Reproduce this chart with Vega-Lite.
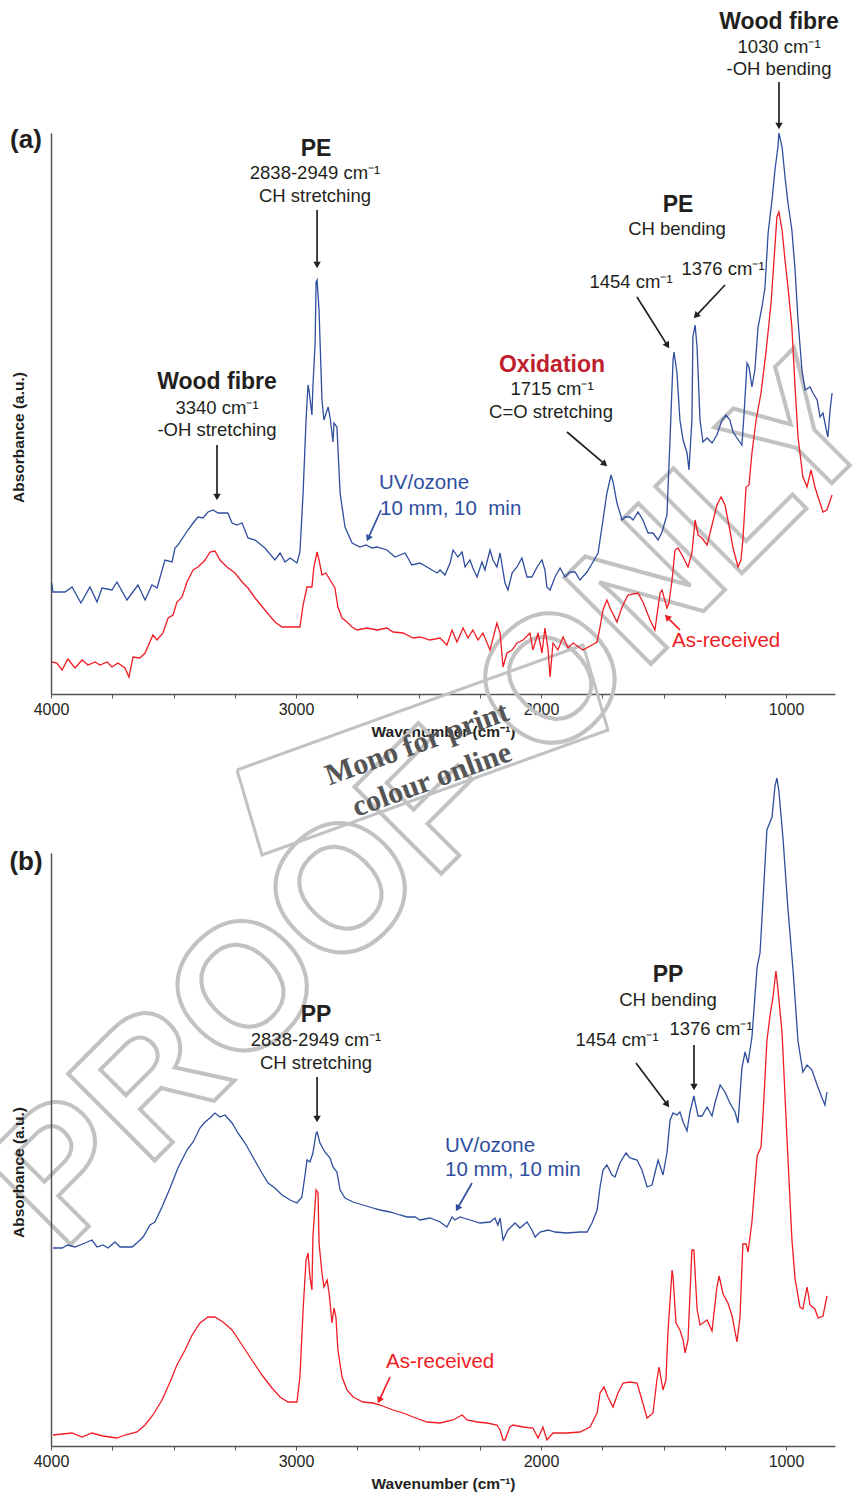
{
"$schema": "https://vega.github.io/schema/vega-lite/v6.json",
"autosize": "none",
"padding": {"left": 51, "top": 133, "right": 809, "bottom": 1363},
"background": "white",
"config": {"view": {"stroke": null}, "font": "Liberation Sans", "axis": {"grid": false}},
"spacing": 159,
"bounds": "flush",
"datasets": {
"a_spec": [
{"wn":3997,"a":111,"s":"UV/ozone"},{"wn":3992,"a":102,"s":"UV/ozone"},{"wn":3943,"a":102,"s":"UV/ozone"},{"wn":3914,"a":107,"s":"UV/ozone"},{"wn":3878,"a":91,"s":"UV/ozone"},{"wn":3841,"a":107,"s":"UV/ozone"},{"wn":3812,"a":92,"s":"UV/ozone"},{"wn":3792,"a":106,"s":"UV/ozone"},{"wn":3751,"a":104,"s":"UV/ozone"},{"wn":3731,"a":112,"s":"UV/ozone"},{"wn":3690,"a":94,"s":"UV/ozone"},{"wn":3645,"a":109,"s":"UV/ozone"},{"wn":3616,"a":94,"s":"UV/ozone"},{"wn":3588,"a":109,"s":"UV/ozone"},{"wn":3567,"a":106,"s":"UV/ozone"},{"wn":3535,"a":134,"s":"UV/ozone"},{"wn":3506,"a":132,"s":"UV/ozone"},{"wn":3494,"a":146,"s":"UV/ozone"},{"wn":3482,"a":149,"s":"UV/ozone"},{"wn":3441,"a":164,"s":"UV/ozone"},{"wn":3420,"a":171,"s":"UV/ozone"},{"wn":3400,"a":177,"s":"UV/ozone"},{"wn":3380,"a":176,"s":"UV/ozone"},{"wn":3359,"a":182,"s":"UV/ozone"},{"wn":3339,"a":184,"s":"UV/ozone"},{"wn":3318,"a":181,"s":"UV/ozone"},{"wn":3278,"a":181,"s":"UV/ozone"},{"wn":3261,"a":171,"s":"UV/ozone"},{"wn":3241,"a":169,"s":"UV/ozone"},{"wn":3220,"a":171,"s":"UV/ozone"},{"wn":3196,"a":156,"s":"UV/ozone"},{"wn":3167,"a":154,"s":"UV/ozone"},{"wn":3127,"a":146,"s":"UV/ozone"},{"wn":3086,"a":134,"s":"UV/ozone"},{"wn":3065,"a":141,"s":"UV/ozone"},{"wn":3045,"a":132,"s":"UV/ozone"},{"wn":3024,"a":136,"s":"UV/ozone"},{"wn":2996,"a":131,"s":"UV/ozone"},{"wn":2984,"a":142,"s":"UV/ozone"},{"wn":2971,"a":201,"s":"UV/ozone"},{"wn":2959,"a":274,"s":"UV/ozone"},{"wn":2951,"a":309,"s":"UV/ozone"},{"wn":2947,"a":304,"s":"UV/ozone"},{"wn":2935,"a":279,"s":"UV/ozone"},{"wn":2931,"a":307,"s":"UV/ozone"},{"wn":2922,"a":351,"s":"UV/ozone"},{"wn":2918,"a":412,"s":"UV/ozone"},{"wn":2914,"a":414,"s":"UV/ozone"},{"wn":2906,"a":384,"s":"UV/ozone"},{"wn":2894,"a":294,"s":"UV/ozone"},{"wn":2886,"a":274,"s":"UV/ozone"},{"wn":2869,"a":287,"s":"UV/ozone"},{"wn":2861,"a":277,"s":"UV/ozone"},{"wn":2849,"a":252,"s":"UV/ozone"},{"wn":2845,"a":271,"s":"UV/ozone"},{"wn":2833,"a":267,"s":"UV/ozone"},{"wn":2820,"a":201,"s":"UV/ozone"},{"wn":2800,"a":167,"s":"UV/ozone"},{"wn":2771,"a":151,"s":"UV/ozone"},{"wn":2739,"a":147,"s":"UV/ozone"},{"wn":2714,"a":149,"s":"UV/ozone"},{"wn":2690,"a":146,"s":"UV/ozone"},{"wn":2669,"a":147,"s":"UV/ozone"},{"wn":2629,"a":144,"s":"UV/ozone"},{"wn":2596,"a":137,"s":"UV/ozone"},{"wn":2555,"a":141,"s":"UV/ozone"},{"wn":2527,"a":129,"s":"UV/ozone"},{"wn":2494,"a":131,"s":"UV/ozone"},{"wn":2424,"a":121,"s":"UV/ozone"},{"wn":2412,"a":124,"s":"UV/ozone"},{"wn":2392,"a":119,"s":"UV/ozone"},{"wn":2371,"a":131,"s":"UV/ozone"},{"wn":2359,"a":144,"s":"UV/ozone"},{"wn":2339,"a":137,"s":"UV/ozone"},{"wn":2322,"a":142,"s":"UV/ozone"},{"wn":2310,"a":127,"s":"UV/ozone"},{"wn":2290,"a":134,"s":"UV/ozone"},{"wn":2278,"a":126,"s":"UV/ozone"},{"wn":2261,"a":117,"s":"UV/ozone"},{"wn":2241,"a":132,"s":"UV/ozone"},{"wn":2229,"a":124,"s":"UV/ozone"},{"wn":2208,"a":144,"s":"UV/ozone"},{"wn":2196,"a":134,"s":"UV/ozone"},{"wn":2180,"a":127,"s":"UV/ozone"},{"wn":2167,"a":141,"s":"UV/ozone"},{"wn":2147,"a":111,"s":"UV/ozone"},{"wn":2135,"a":104,"s":"UV/ozone"},{"wn":2118,"a":121,"s":"UV/ozone"},{"wn":2098,"a":127,"s":"UV/ozone"},{"wn":2078,"a":136,"s":"UV/ozone"},{"wn":2057,"a":117,"s":"UV/ozone"},{"wn":2037,"a":117,"s":"UV/ozone"},{"wn":2016,"a":127,"s":"UV/ozone"},{"wn":1996,"a":134,"s":"UV/ozone"},{"wn":1984,"a":124,"s":"UV/ozone"},{"wn":1976,"a":107,"s":"UV/ozone"},{"wn":1963,"a":104,"s":"UV/ozone"},{"wn":1943,"a":117,"s":"UV/ozone"},{"wn":1922,"a":126,"s":"UV/ozone"},{"wn":1902,"a":117,"s":"UV/ozone"},{"wn":1882,"a":122,"s":"UV/ozone"},{"wn":1861,"a":122,"s":"UV/ozone"},{"wn":1841,"a":114,"s":"UV/ozone"},{"wn":1812,"a":122,"s":"UV/ozone"},{"wn":1788,"a":132,"s":"UV/ozone"},{"wn":1767,"a":141,"s":"UV/ozone"},{"wn":1747,"a":174,"s":"UV/ozone"},{"wn":1731,"a":201,"s":"UV/ozone"},{"wn":1714,"a":219,"s":"UV/ozone"},{"wn":1706,"a":212,"s":"UV/ozone"},{"wn":1690,"a":191,"s":"UV/ozone"},{"wn":1669,"a":174,"s":"UV/ozone"},{"wn":1657,"a":177,"s":"UV/ozone"},{"wn":1637,"a":177,"s":"UV/ozone"},{"wn":1624,"a":174,"s":"UV/ozone"},{"wn":1604,"a":182,"s":"UV/ozone"},{"wn":1584,"a":174,"s":"UV/ozone"},{"wn":1563,"a":161,"s":"UV/ozone"},{"wn":1543,"a":161,"s":"UV/ozone"},{"wn":1522,"a":154,"s":"UV/ozone"},{"wn":1506,"a":162,"s":"UV/ozone"},{"wn":1486,"a":179,"s":"UV/ozone"},{"wn":1473,"a":257,"s":"UV/ozone"},{"wn":1461,"a":334,"s":"UV/ozone"},{"wn":1457,"a":342,"s":"UV/ozone"},{"wn":1445,"a":321,"s":"UV/ozone"},{"wn":1433,"a":274,"s":"UV/ozone"},{"wn":1420,"a":254,"s":"UV/ozone"},{"wn":1404,"a":241,"s":"UV/ozone"},{"wn":1396,"a":224,"s":"UV/ozone"},{"wn":1384,"a":274,"s":"UV/ozone"},{"wn":1380,"a":357,"s":"UV/ozone"},{"wn":1371,"a":369,"s":"UV/ozone"},{"wn":1363,"a":347,"s":"UV/ozone"},{"wn":1351,"a":274,"s":"UV/ozone"},{"wn":1339,"a":252,"s":"UV/ozone"},{"wn":1322,"a":256,"s":"UV/ozone"},{"wn":1302,"a":251,"s":"UV/ozone"},{"wn":1282,"a":259,"s":"UV/ozone"},{"wn":1261,"a":274,"s":"UV/ozone"},{"wn":1245,"a":279,"s":"UV/ozone"},{"wn":1229,"a":274,"s":"UV/ozone"},{"wn":1216,"a":262,"s":"UV/ozone"},{"wn":1200,"a":256,"s":"UV/ozone"},{"wn":1180,"a":249,"s":"UV/ozone"},{"wn":1171,"a":281,"s":"UV/ozone"},{"wn":1159,"a":331,"s":"UV/ozone"},{"wn":1151,"a":327,"s":"UV/ozone"},{"wn":1139,"a":307,"s":"UV/ozone"},{"wn":1127,"a":324,"s":"UV/ozone"},{"wn":1114,"a":367,"s":"UV/ozone"},{"wn":1098,"a":387,"s":"UV/ozone"},{"wn":1086,"a":406,"s":"UV/ozone"},{"wn":1073,"a":461,"s":"UV/ozone"},{"wn":1057,"a":494,"s":"UV/ozone"},{"wn":1045,"a":524,"s":"UV/ozone"},{"wn":1033,"a":547,"s":"UV/ozone"},{"wn":1029,"a":561,"s":"UV/ozone"},{"wn":1016,"a":547,"s":"UV/ozone"},{"wn":1004,"a":517,"s":"UV/ozone"},{"wn":992,"a":491,"s":"UV/ozone"},{"wn":976,"a":464,"s":"UV/ozone"},{"wn":963,"a":424,"s":"UV/ozone"},{"wn":951,"a":374,"s":"UV/ozone"},{"wn":935,"a":324,"s":"UV/ozone"},{"wn":922,"a":304,"s":"UV/ozone"},{"wn":902,"a":307,"s":"UV/ozone"},{"wn":890,"a":301,"s":"UV/ozone"},{"wn":873,"a":294,"s":"UV/ozone"},{"wn":861,"a":277,"s":"UV/ozone"},{"wn":849,"a":281,"s":"UV/ozone"},{"wn":833,"a":261,"s":"UV/ozone"},{"wn":829,"a":257,"s":"UV/ozone"},{"wn":820,"a":284,"s":"UV/ozone"},{"wn":812,"a":301,"s":"UV/ozone"},
{"wn":3996,"a":32,"s":"As-received"},{"wn":3976,"a":31,"s":"As-received"},{"wn":3955,"a":24,"s":"As-received"},{"wn":3931,"a":35,"s":"As-received"},{"wn":3902,"a":26,"s":"As-received"},{"wn":3873,"a":34,"s":"As-received"},{"wn":3849,"a":29,"s":"As-received"},{"wn":3820,"a":32,"s":"As-received"},{"wn":3800,"a":29,"s":"As-received"},{"wn":3771,"a":32,"s":"As-received"},{"wn":3751,"a":27,"s":"As-received"},{"wn":3727,"a":31,"s":"As-received"},{"wn":3698,"a":26,"s":"As-received"},{"wn":3682,"a":17,"s":"As-received"},{"wn":3665,"a":37,"s":"As-received"},{"wn":3637,"a":36,"s":"As-received"},{"wn":3616,"a":41,"s":"As-received"},{"wn":3584,"a":59,"s":"As-received"},{"wn":3567,"a":54,"s":"As-received"},{"wn":3543,"a":61,"s":"As-received"},{"wn":3522,"a":76,"s":"As-received"},{"wn":3502,"a":79,"s":"As-received"},{"wn":3486,"a":92,"s":"As-received"},{"wn":3465,"a":97,"s":"As-received"},{"wn":3445,"a":112,"s":"As-received"},{"wn":3420,"a":124,"s":"As-received"},{"wn":3400,"a":127,"s":"As-received"},{"wn":3371,"a":134,"s":"As-received"},{"wn":3351,"a":142,"s":"As-received"},{"wn":3331,"a":143,"s":"As-received"},{"wn":3310,"a":134,"s":"As-received"},{"wn":3282,"a":127,"s":"As-received"},{"wn":3249,"a":121,"s":"As-received"},{"wn":3220,"a":112,"s":"As-received"},{"wn":3196,"a":106,"s":"As-received"},{"wn":3167,"a":96,"s":"As-received"},{"wn":3127,"a":84,"s":"As-received"},{"wn":3086,"a":72,"s":"As-received"},{"wn":3057,"a":67,"s":"As-received"},{"wn":2992,"a":67,"s":"As-received"},{"wn":2984,"a":67,"s":"As-received"},{"wn":2971,"a":89,"s":"As-received"},{"wn":2955,"a":107,"s":"As-received"},{"wn":2935,"a":107,"s":"As-received"},{"wn":2927,"a":127,"s":"As-received"},{"wn":2914,"a":142,"s":"As-received"},{"wn":2906,"a":134,"s":"As-received"},{"wn":2894,"a":119,"s":"As-received"},{"wn":2878,"a":121,"s":"As-received"},{"wn":2861,"a":114,"s":"As-received"},{"wn":2841,"a":106,"s":"As-received"},{"wn":2829,"a":87,"s":"As-received"},{"wn":2812,"a":76,"s":"As-received"},{"wn":2792,"a":72,"s":"As-received"},{"wn":2771,"a":67,"s":"As-received"},{"wn":2751,"a":64,"s":"As-received"},{"wn":2710,"a":66,"s":"As-received"},{"wn":2669,"a":64,"s":"As-received"},{"wn":2629,"a":66,"s":"As-received"},{"wn":2604,"a":62,"s":"As-received"},{"wn":2563,"a":61,"s":"As-received"},{"wn":2522,"a":56,"s":"As-received"},{"wn":2494,"a":57,"s":"As-received"},{"wn":2453,"a":54,"s":"As-received"},{"wn":2412,"a":56,"s":"As-received"},{"wn":2384,"a":49,"s":"As-received"},{"wn":2363,"a":64,"s":"As-received"},{"wn":2343,"a":52,"s":"As-received"},{"wn":2318,"a":66,"s":"As-received"},{"wn":2298,"a":56,"s":"As-received"},{"wn":2278,"a":64,"s":"As-received"},{"wn":2257,"a":54,"s":"As-received"},{"wn":2237,"a":61,"s":"As-received"},{"wn":2208,"a":44,"s":"As-received"},{"wn":2180,"a":71,"s":"As-received"},{"wn":2167,"a":61,"s":"As-received"},{"wn":2155,"a":27,"s":"As-received"},{"wn":2139,"a":41,"s":"As-received"},{"wn":2118,"a":44,"s":"As-received"},{"wn":2098,"a":51,"s":"As-received"},{"wn":2073,"a":54,"s":"As-received"},{"wn":2045,"a":61,"s":"As-received"},{"wn":2033,"a":44,"s":"As-received"},{"wn":2012,"a":61,"s":"As-received"},{"wn":1996,"a":41,"s":"As-received"},{"wn":1984,"a":66,"s":"As-received"},{"wn":1971,"a":44,"s":"As-received"},{"wn":1963,"a":17,"s":"As-received"},{"wn":1951,"a":51,"s":"As-received"},{"wn":1931,"a":44,"s":"As-received"},{"wn":1910,"a":57,"s":"As-received"},{"wn":1890,"a":46,"s":"As-received"},{"wn":1869,"a":51,"s":"As-received"},{"wn":1829,"a":44,"s":"As-received"},{"wn":1771,"a":52,"s":"As-received"},{"wn":1759,"a":67,"s":"As-received"},{"wn":1747,"a":84,"s":"As-received"},{"wn":1731,"a":94,"s":"As-received"},{"wn":1718,"a":86,"s":"As-received"},{"wn":1690,"a":72,"s":"As-received"},{"wn":1669,"a":87,"s":"As-received"},{"wn":1645,"a":99,"s":"As-received"},{"wn":1604,"a":101,"s":"As-received"},{"wn":1584,"a":92,"s":"As-received"},{"wn":1555,"a":74,"s":"As-received"},{"wn":1535,"a":64,"s":"As-received"},{"wn":1514,"a":101,"s":"As-received"},{"wn":1506,"a":104,"s":"As-received"},{"wn":1486,"a":86,"s":"As-received"},{"wn":1478,"a":91,"s":"As-received"},{"wn":1465,"a":114,"s":"As-received"},{"wn":1453,"a":144,"s":"As-received"},{"wn":1441,"a":146,"s":"As-received"},{"wn":1420,"a":137,"s":"As-received"},{"wn":1400,"a":127,"s":"As-received"},{"wn":1384,"a":141,"s":"As-received"},{"wn":1371,"a":174,"s":"As-received"},{"wn":1359,"a":159,"s":"As-received"},{"wn":1343,"a":156,"s":"As-received"},{"wn":1322,"a":149,"s":"As-received"},{"wn":1302,"a":169,"s":"As-received"},{"wn":1282,"a":189,"s":"As-received"},{"wn":1265,"a":197,"s":"As-received"},{"wn":1249,"a":189,"s":"As-received"},{"wn":1233,"a":169,"s":"As-received"},{"wn":1216,"a":146,"s":"As-received"},{"wn":1196,"a":127,"s":"As-received"},{"wn":1184,"a":134,"s":"As-received"},{"wn":1176,"a":154,"s":"As-received"},{"wn":1163,"a":207,"s":"As-received"},{"wn":1151,"a":209,"s":"As-received"},{"wn":1139,"a":241,"s":"As-received"},{"wn":1122,"a":274,"s":"As-received"},{"wn":1102,"a":301,"s":"As-received"},{"wn":1082,"a":341,"s":"As-received"},{"wn":1061,"a":391,"s":"As-received"},{"wn":1049,"a":434,"s":"As-received"},{"wn":1037,"a":477,"s":"As-received"},{"wn":1029,"a":482,"s":"As-received"},{"wn":1016,"a":464,"s":"As-received"},{"wn":1004,"a":434,"s":"As-received"},{"wn":992,"a":407,"s":"As-received"},{"wn":976,"a":367,"s":"As-received"},{"wn":963,"a":307,"s":"As-received"},{"wn":951,"a":257,"s":"As-received"},{"wn":931,"a":217,"s":"As-received"},{"wn":914,"a":207,"s":"As-received"},{"wn":898,"a":224,"s":"As-received"},{"wn":882,"a":207,"s":"As-received"},{"wn":869,"a":197,"s":"As-received"},{"wn":849,"a":182,"s":"As-received"},{"wn":833,"a":184,"s":"As-received"},{"wn":812,"a":199,"s":"As-received"}
],
"b_spec": [
{"wn":3992,"a":198,"s":"UV/ozone"},{"wn":3955,"a":198,"s":"UV/ozone"},{"wn":3931,"a":201,"s":"UV/ozone"},{"wn":3902,"a":199,"s":"UV/ozone"},{"wn":3861,"a":203,"s":"UV/ozone"},{"wn":3833,"a":206,"s":"UV/ozone"},{"wn":3812,"a":199,"s":"UV/ozone"},{"wn":3788,"a":201,"s":"UV/ozone"},{"wn":3767,"a":198,"s":"UV/ozone"},{"wn":3739,"a":204,"s":"UV/ozone"},{"wn":3718,"a":199,"s":"UV/ozone"},{"wn":3669,"a":199,"s":"UV/ozone"},{"wn":3645,"a":204,"s":"UV/ozone"},{"wn":3624,"a":209,"s":"UV/ozone"},{"wn":3596,"a":221,"s":"UV/ozone"},{"wn":3576,"a":224,"s":"UV/ozone"},{"wn":3547,"a":239,"s":"UV/ozone"},{"wn":3514,"a":258,"s":"UV/ozone"},{"wn":3482,"a":278,"s":"UV/ozone"},{"wn":3445,"a":296,"s":"UV/ozone"},{"wn":3420,"a":304,"s":"UV/ozone"},{"wn":3392,"a":318,"s":"UV/ozone"},{"wn":3371,"a":324,"s":"UV/ozone"},{"wn":3351,"a":328,"s":"UV/ozone"},{"wn":3331,"a":333,"s":"UV/ozone"},{"wn":3310,"a":329,"s":"UV/ozone"},{"wn":3290,"a":331,"s":"UV/ozone"},{"wn":3261,"a":323,"s":"UV/ozone"},{"wn":3237,"a":313,"s":"UV/ozone"},{"wn":3208,"a":303,"s":"UV/ozone"},{"wn":3176,"a":289,"s":"UV/ozone"},{"wn":3139,"a":273,"s":"UV/ozone"},{"wn":3114,"a":263,"s":"UV/ozone"},{"wn":3086,"a":258,"s":"UV/ozone"},{"wn":3057,"a":251,"s":"UV/ozone"},{"wn":3024,"a":246,"s":"UV/ozone"},{"wn":2996,"a":243,"s":"UV/ozone"},{"wn":2976,"a":249,"s":"UV/ozone"},{"wn":2963,"a":271,"s":"UV/ozone"},{"wn":2955,"a":286,"s":"UV/ozone"},{"wn":2943,"a":284,"s":"UV/ozone"},{"wn":2931,"a":293,"s":"UV/ozone"},{"wn":2918,"a":313,"s":"UV/ozone"},{"wn":2914,"a":314,"s":"UV/ozone"},{"wn":2902,"a":303,"s":"UV/ozone"},{"wn":2882,"a":294,"s":"UV/ozone"},{"wn":2861,"a":288,"s":"UV/ozone"},{"wn":2849,"a":279,"s":"UV/ozone"},{"wn":2833,"a":274,"s":"UV/ozone"},{"wn":2820,"a":256,"s":"UV/ozone"},{"wn":2800,"a":248,"s":"UV/ozone"},{"wn":2767,"a":244,"s":"UV/ozone"},{"wn":2727,"a":241,"s":"UV/ozone"},{"wn":2686,"a":238,"s":"UV/ozone"},{"wn":2657,"a":236,"s":"UV/ozone"},{"wn":2616,"a":234,"s":"UV/ozone"},{"wn":2576,"a":231,"s":"UV/ozone"},{"wn":2547,"a":229,"s":"UV/ozone"},{"wn":2514,"a":229,"s":"UV/ozone"},{"wn":2494,"a":226,"s":"UV/ozone"},{"wn":2453,"a":228,"s":"UV/ozone"},{"wn":2412,"a":224,"s":"UV/ozone"},{"wn":2384,"a":219,"s":"UV/ozone"},{"wn":2363,"a":229,"s":"UV/ozone"},{"wn":2351,"a":226,"s":"UV/ozone"},{"wn":2331,"a":229,"s":"UV/ozone"},{"wn":2290,"a":226,"s":"UV/ozone"},{"wn":2249,"a":223,"s":"UV/ozone"},{"wn":2208,"a":224,"s":"UV/ozone"},{"wn":2188,"a":228,"s":"UV/ozone"},{"wn":2176,"a":221,"s":"UV/ozone"},{"wn":2167,"a":228,"s":"UV/ozone"},{"wn":2155,"a":206,"s":"UV/ozone"},{"wn":2135,"a":216,"s":"UV/ozone"},{"wn":2106,"a":223,"s":"UV/ozone"},{"wn":2086,"a":218,"s":"UV/ozone"},{"wn":2057,"a":224,"s":"UV/ozone"},{"wn":2037,"a":216,"s":"UV/ozone"},{"wn":2024,"a":209,"s":"UV/ozone"},{"wn":2004,"a":214,"s":"UV/ozone"},{"wn":1971,"a":216,"s":"UV/ozone"},{"wn":1943,"a":214,"s":"UV/ozone"},{"wn":1894,"a":213,"s":"UV/ozone"},{"wn":1841,"a":214,"s":"UV/ozone"},{"wn":1812,"a":214,"s":"UV/ozone"},{"wn":1792,"a":223,"s":"UV/ozone"},{"wn":1771,"a":236,"s":"UV/ozone"},{"wn":1759,"a":259,"s":"UV/ozone"},{"wn":1747,"a":276,"s":"UV/ozone"},{"wn":1731,"a":281,"s":"UV/ozone"},{"wn":1710,"a":271,"s":"UV/ozone"},{"wn":1698,"a":269,"s":"UV/ozone"},{"wn":1678,"a":283,"s":"UV/ozone"},{"wn":1653,"a":293,"s":"UV/ozone"},{"wn":1637,"a":288,"s":"UV/ozone"},{"wn":1608,"a":286,"s":"UV/ozone"},{"wn":1588,"a":276,"s":"UV/ozone"},{"wn":1567,"a":259,"s":"UV/ozone"},{"wn":1547,"a":261,"s":"UV/ozone"},{"wn":1535,"a":273,"s":"UV/ozone"},{"wn":1522,"a":286,"s":"UV/ozone"},{"wn":1502,"a":271,"s":"UV/ozone"},{"wn":1486,"a":293,"s":"UV/ozone"},{"wn":1473,"a":326,"s":"UV/ozone"},{"wn":1461,"a":333,"s":"UV/ozone"},{"wn":1445,"a":331,"s":"UV/ozone"},{"wn":1433,"a":334,"s":"UV/ozone"},{"wn":1420,"a":324,"s":"UV/ozone"},{"wn":1404,"a":315,"s":"UV/ozone"},{"wn":1392,"a":334,"s":"UV/ozone"},{"wn":1376,"a":350,"s":"UV/ozone"},{"wn":1359,"a":330,"s":"UV/ozone"},{"wn":1343,"a":330,"s":"UV/ozone"},{"wn":1322,"a":339,"s":"UV/ozone"},{"wn":1302,"a":330,"s":"UV/ozone"},{"wn":1290,"a":343,"s":"UV/ozone"},{"wn":1269,"a":361,"s":"UV/ozone"},{"wn":1249,"a":354,"s":"UV/ozone"},{"wn":1229,"a":343,"s":"UV/ozone"},{"wn":1208,"a":334,"s":"UV/ozone"},{"wn":1196,"a":323,"s":"UV/ozone"},{"wn":1180,"a":378,"s":"UV/ozone"},{"wn":1167,"a":394,"s":"UV/ozone"},{"wn":1155,"a":383,"s":"UV/ozone"},{"wn":1139,"a":409,"s":"UV/ozone"},{"wn":1118,"a":479,"s":"UV/ozone"},{"wn":1106,"a":493,"s":"UV/ozone"},{"wn":1094,"a":545,"s":"UV/ozone"},{"wn":1078,"a":616,"s":"UV/ozone"},{"wn":1057,"a":629,"s":"UV/ozone"},{"wn":1045,"a":660,"s":"UV/ozone"},{"wn":1037,"a":668,"s":"UV/ozone"},{"wn":1029,"a":655,"s":"UV/ozone"},{"wn":1012,"a":607,"s":"UV/ozone"},{"wn":992,"a":537,"s":"UV/ozone"},{"wn":971,"a":475,"s":"UV/ozone"},{"wn":951,"a":405,"s":"UV/ozone"},{"wn":931,"a":374,"s":"UV/ozone"},{"wn":914,"a":381,"s":"UV/ozone"},{"wn":894,"a":376,"s":"UV/ozone"},{"wn":873,"a":361,"s":"UV/ozone"},{"wn":853,"a":348,"s":"UV/ozone"},{"wn":841,"a":341,"s":"UV/ozone"},{"wn":833,"a":354,"s":"UV/ozone"},
{"wn":3992,"a":11,"s":"As-received"},{"wn":3914,"a":13,"s":"As-received"},{"wn":3873,"a":9,"s":"As-received"},{"wn":3833,"a":13,"s":"As-received"},{"wn":3788,"a":10,"s":"As-received"},{"wn":3731,"a":8,"s":"As-received"},{"wn":3698,"a":11,"s":"As-received"},{"wn":3649,"a":14,"s":"As-received"},{"wn":3616,"a":21,"s":"As-received"},{"wn":3584,"a":31,"s":"As-received"},{"wn":3547,"a":46,"s":"As-received"},{"wn":3514,"a":64,"s":"As-received"},{"wn":3486,"a":81,"s":"As-received"},{"wn":3453,"a":96,"s":"As-received"},{"wn":3424,"a":111,"s":"As-received"},{"wn":3392,"a":123,"s":"As-received"},{"wn":3359,"a":129,"s":"As-received"},{"wn":3331,"a":129,"s":"As-received"},{"wn":3298,"a":124,"s":"As-received"},{"wn":3261,"a":116,"s":"As-received"},{"wn":3220,"a":101,"s":"As-received"},{"wn":3180,"a":86,"s":"As-received"},{"wn":3139,"a":71,"s":"As-received"},{"wn":3098,"a":58,"s":"As-received"},{"wn":3065,"a":49,"s":"As-received"},{"wn":3033,"a":44,"s":"As-received"},{"wn":2996,"a":44,"s":"As-received"},{"wn":2984,"a":69,"s":"As-received"},{"wn":2971,"a":136,"s":"As-received"},{"wn":2959,"a":186,"s":"As-received"},{"wn":2951,"a":193,"s":"As-received"},{"wn":2943,"a":169,"s":"As-received"},{"wn":2935,"a":156,"s":"As-received"},{"wn":2931,"a":209,"s":"As-received"},{"wn":2918,"a":256,"s":"As-received"},{"wn":2910,"a":253,"s":"As-received"},{"wn":2906,"a":203,"s":"As-received"},{"wn":2894,"a":173,"s":"As-received"},{"wn":2886,"a":159,"s":"As-received"},{"wn":2873,"a":166,"s":"As-received"},{"wn":2865,"a":153,"s":"As-received"},{"wn":2853,"a":123,"s":"As-received"},{"wn":2845,"a":138,"s":"As-received"},{"wn":2837,"a":129,"s":"As-received"},{"wn":2829,"a":96,"s":"As-received"},{"wn":2812,"a":69,"s":"As-received"},{"wn":2792,"a":56,"s":"As-received"},{"wn":2767,"a":49,"s":"As-received"},{"wn":2727,"a":44,"s":"As-received"},{"wn":2686,"a":43,"s":"As-received"},{"wn":2657,"a":41,"s":"As-received"},{"wn":2604,"a":36,"s":"As-received"},{"wn":2563,"a":33,"s":"As-received"},{"wn":2522,"a":29,"s":"As-received"},{"wn":2465,"a":24,"s":"As-received"},{"wn":2412,"a":23,"s":"As-received"},{"wn":2359,"a":26,"s":"As-received"},{"wn":2322,"a":31,"s":"As-received"},{"wn":2302,"a":26,"s":"As-received"},{"wn":2261,"a":24,"s":"As-received"},{"wn":2220,"a":23,"s":"As-received"},{"wn":2180,"a":21,"s":"As-received"},{"wn":2167,"a":16,"s":"As-received"},{"wn":2155,"a":6,"s":"As-received"},{"wn":2147,"a":6,"s":"As-received"},{"wn":2127,"a":19,"s":"As-received"},{"wn":2114,"a":21,"s":"As-received"},{"wn":2073,"a":19,"s":"As-received"},{"wn":2033,"a":18,"s":"As-received"},{"wn":2012,"a":8,"s":"As-received"},{"wn":1992,"a":19,"s":"As-received"},{"wn":1976,"a":6,"s":"As-received"},{"wn":1951,"a":13,"s":"As-received"},{"wn":1894,"a":13,"s":"As-received"},{"wn":1841,"a":14,"s":"As-received"},{"wn":1800,"a":19,"s":"As-received"},{"wn":1771,"a":33,"s":"As-received"},{"wn":1759,"a":53,"s":"As-received"},{"wn":1743,"a":59,"s":"As-received"},{"wn":1727,"a":49,"s":"As-received"},{"wn":1706,"a":39,"s":"As-received"},{"wn":1686,"a":53,"s":"As-received"},{"wn":1665,"a":63,"s":"As-received"},{"wn":1637,"a":64,"s":"As-received"},{"wn":1608,"a":63,"s":"As-received"},{"wn":1588,"a":46,"s":"As-received"},{"wn":1567,"a":28,"s":"As-received"},{"wn":1543,"a":33,"s":"As-received"},{"wn":1527,"a":66,"s":"As-received"},{"wn":1518,"a":79,"s":"As-received"},{"wn":1502,"a":56,"s":"As-received"},{"wn":1490,"a":66,"s":"As-received"},{"wn":1482,"a":113,"s":"As-received"},{"wn":1465,"a":176,"s":"As-received"},{"wn":1461,"a":169,"s":"As-received"},{"wn":1449,"a":123,"s":"As-received"},{"wn":1433,"a":116,"s":"As-received"},{"wn":1420,"a":106,"s":"As-received"},{"wn":1412,"a":93,"s":"As-received"},{"wn":1400,"a":106,"s":"As-received"},{"wn":1384,"a":196,"s":"As-received"},{"wn":1376,"a":196,"s":"As-received"},{"wn":1363,"a":137,"s":"As-received"},{"wn":1351,"a":121,"s":"As-received"},{"wn":1322,"a":126,"s":"As-received"},{"wn":1302,"a":115,"s":"As-received"},{"wn":1282,"a":159,"s":"As-received"},{"wn":1273,"a":170,"s":"As-received"},{"wn":1257,"a":152,"s":"As-received"},{"wn":1237,"a":143,"s":"As-received"},{"wn":1220,"a":130,"s":"As-received"},{"wn":1200,"a":104,"s":"As-received"},{"wn":1188,"a":128,"s":"As-received"},{"wn":1176,"a":202,"s":"As-received"},{"wn":1163,"a":202,"s":"As-received"},{"wn":1155,"a":194,"s":"As-received"},{"wn":1139,"a":224,"s":"As-received"},{"wn":1118,"a":290,"s":"As-received"},{"wn":1102,"a":299,"s":"As-received"},{"wn":1094,"a":330,"s":"As-received"},{"wn":1078,"a":405,"s":"As-received"},{"wn":1065,"a":431,"s":"As-received"},{"wn":1053,"a":449,"s":"As-received"},{"wn":1041,"a":475,"s":"As-received"},{"wn":1033,"a":457,"s":"As-received"},{"wn":1016,"a":413,"s":"As-received"},{"wn":996,"a":308,"s":"As-received"},{"wn":976,"a":207,"s":"As-received"},{"wn":963,"a":167,"s":"As-received"},{"wn":943,"a":139,"s":"As-received"},{"wn":931,"a":137,"s":"As-received"},{"wn":914,"a":159,"s":"As-received"},{"wn":902,"a":141,"s":"As-received"},{"wn":882,"a":137,"s":"As-received"},{"wn":869,"a":128,"s":"As-received"},{"wn":849,"a":130,"s":"As-received"},{"wn":833,"a":150,"s":"As-received"}
],
"a_head": [
{"t":"Wood fibre","wn":1028.6,"a":672,"s":"note"},
{"t":"PE","wn":2918.4,"a":545,"s":"note"},
{"t":"Wood fibre","wn":3322.4,"a":312,"s":"note"},
{"t":"Oxidation","wn":1955.1,"a":329,"s":"oxidation"},
{"t":"PE","wn":1440.8,"a":489,"s":"note"}
],
"a_det": [
{"t":"1030 cm⁻¹","wn":1028.6,"a":647,"s":"note"},
{"t":"-OH bending","wn":1028.6,"a":625,"s":"note"},
{"t":"2838-2949 cm⁻¹","wn":2922.4,"a":521,"s":"note"},
{"t":"CH stretching","wn":2922.4,"a":498,"s":"note"},
{"t":"3340 cm⁻¹","wn":3322.4,"a":286,"s":"note"},
{"t":"-OH stretching","wn":3322.4,"a":264,"s":"note"},
{"t":"1715 cm⁻¹","wn":1955.1,"a":305,"s":"note"},
{"t":"C=O stretching","wn":1959.2,"a":282,"s":"note"},
{"t":"CH bending","wn":1444.9,"a":465,"s":"note"},
{"t":"1454 cm⁻¹","wn":1632.7,"a":412,"s":"note"},
{"t":"1376 cm⁻¹","wn":1257.1,"a":425,"s":"note"}
],
"a_lab": [
{"t":"UV/ozone","wn":2661.2,"a":211,"s":"UV/ozone"},
{"t":"10 mm, 10\u00a0 min","wn":2657.1,"a":185,"s":"UV/ozone"},
{"t":"As-received","wn":1465.3,"a":53,"s":"As-received"}
],
"a_panel": [{"t":"(a)","wn":4102,"a":554,"s":"note"}],
"a_arrow": [
{"wn":1028.6,"a":569,"wt":1028.6,"at":612,"ang":180,"s":"note"},
{"wn":2914,"a":430,"wt":2914,"at":484,"ang":180,"s":"note"},
{"wn":3322.4,"a":198,"wt":3322.4,"at":249,"ang":180,"s":"note"},
{"wn":1742.9,"a":230.6,"wt":1893.9,"at":262,"ang":130.4,"s":"note"},
{"wn":1486.1,"a":349.4,"wt":1608.2,"at":397,"ang":147.9,"s":"note"},
{"wn":1364.5,"a":378.9,"wt":1249,"at":409,"ang":223.2,"s":"note"},
{"wn":2703.7,"a":156.6,"wt":2653.1,"at":184,"ang":204.3,"s":"UV/ozone"},
{"wn":1482.4,"a":76.2,"wt":1432.7,"at":64,"ang":315,"s":"As-received"}
],
"wm_box": [
{"k":0,"wn":3240.8,"a":-76},{"k":1,"wn":1828.6,"a":49},{"k":2,"wn":1726.5,"a":-36},{"k":3,"wn":3138.8,"a":-161},{"k":4,"wn":3240.8,"a":-76}
],
"wm_big": [{"t":"PROOF ONLY","wn":2432.7,"a":-111}],
"wm_small": [{"t":"Mono for print","wn":2506,"a":-50},{"t":"colour online","wn":2445,"a":-86}],
"b_head": [
{"t":"PP","wn":2918.4,"a":431,"s":"note"},
{"t":"PP","wn":1481.6,"a":471,"s":"note"}
],
"b_det": [
{"t":"2838-2949 cm⁻¹","wn":2918.4,"a":406,"s":"note"},
{"t":"CH stretching","wn":2918.4,"a":383,"s":"note"},
{"t":"CH bending","wn":1481.6,"a":446,"s":"note"},
{"t":"1454 cm⁻¹","wn":1689.8,"a":406,"s":"note"},
{"t":"1376 cm⁻¹","wn":1306.1,"a":417,"s":"note"}
],
"b_lab": [
{"t":"UV/ozone","wn":2391.8,"a":300,"s":"UV/ozone"},
{"t":"10 mm, 10 min","wn":2391.8,"a":276,"s":"UV/ozone"},
{"t":"As-received","wn":2632.7,"a":84,"s":"As-received"}
],
"b_panel": [{"t":"(b)","wn":4102,"a":584,"s":"note"}],
"b_arrow": [
{"wn":2914,"a":328,"wt":2914,"at":369,"ang":180,"s":"note"},
{"wn":1487.3,"a":342.2,"wt":1612.2,"at":383,"ang":143.1,"s":"note"},
{"wn":1375.5,"a":360,"wt":1375.5,"at":401,"ang":180,"s":"note"},
{"wn":2338.8,"a":238.5,"wt":2281.6,"at":263,"ang":209.7,"s":"UV/ozone"},
{"wn":2658.4,"a":46.6,"wt":2616.3,"at":69,"ang":204.8,"s":"As-received"}
]
},
"vconcat": [
{
"width": 784, "height": 561,
"encoding": {
"x": {"field": "wn", "type": "quantitative", "scale": {"domain": [800, 4000], "reverse": true, "nice": false, "zero": false},
 "axis": {"values": [4000,3750,3500,3250,3000,2750,2500,2250,2000,1750,1500,1250,1000], "format": "d", "labelExpr": "datum.value % 1000 === 0 ? datum.label : ''", "labelFlush": false, "labelOverlap": false, "labelBound": false, "tickSize": 4, "tickColor": "#555555", "domainColor": "#555555", "domainWidth": 1.5, "labelFontSize": 16, "labelColor": "#231f20", "labelPadding": 3, "title": "Wavenumber (cm⁻¹)", "titleFontSize": 15.5, "titleFontWeight": "bold", "titleColor": "#231f20", "titlePadding": 7}},
"y": {"field": "a", "type": "quantitative", "scale": {"domain": [0, 561], "nice": false, "zero": false},
 "axis": {"ticks": false, "labels": false, "domainColor": "#555555", "domainWidth": 1.5, "title": "Absorbance (a.u.)", "titleFontSize": 15.5, "titleFontWeight": "bold", "titleColor": "#231f20", "titlePadding": 25, "titleY": 304}}
},
"layer": [
{"data": {"name": "wm_box"}, "mark": {"type": "line", "stroke": "#c2c2c2", "strokeWidth": 3}, "encoding": {"order": {"field": "k", "type": "quantitative"}}},
{"data": {"name": "wm_big"}, "mark": {"type": "text", "font": "Liberation Sans", "fontWeight": "bold", "fontSize": 178, "angle": -45, "align": "center", "baseline": "middle", "fill": "transparent", "stroke": "#c2c2c2", "strokeWidth": 4}, "encoding": {"text": {"field": "t"}}},
{"data": {"name": "wm_small"}, "mark": {"type": "text", "font": "Liberation Serif", "fontWeight": "bold", "fontSize": 30, "angle": -20, "align": "center", "baseline": "middle", "fill": "#555555"}, "encoding": {"text": {"field": "t"}}},
{"data": {"name": "a_spec"}, "mark": {"type": "line", "strokeWidth": 1.3}, "encoding": {"color": {"field": "s", "type": "nominal", "scale": {"domain": ["UV/ozone", "As-received", "note", "oxidation"], "range": ["#2f4e9e", "#f01c24", "#231f20", "#be1e2d"]}, "legend": null}, "detail": {"field": "s"}}},
{"data": {"name": "a_arrow"}, "layer": [
 {"mark": {"type": "rule", "strokeWidth": 1.7}, "encoding": {"x2": {"field": "wt"}, "y2": {"field": "at"}, "color": {"field": "s", "type": "nominal", "legend": null}}},
 {"mark": {"type": "point", "shape": "triangle", "filled": true, "size": 55, "opacity": 1}, "encoding": {"angle": {"field": "ang", "type": "quantitative", "scale": null}, "color": {"field": "s", "type": "nominal", "legend": null}}}
]},
{"data": {"name": "a_head"}, "mark": {"type": "text", "fontWeight": "bold", "fontSize": 23, "align": "center", "baseline": "middle"}, "encoding": {"text": {"field": "t"}, "color": {"field": "s", "type": "nominal", "legend": null}}},
{"data": {"name": "a_det"}, "mark": {"type": "text", "fontSize": 18.5, "align": "center", "baseline": "middle"}, "encoding": {"text": {"field": "t"}, "color": {"field": "s", "type": "nominal", "legend": null}}},
{"data": {"name": "a_lab"}, "mark": {"type": "text", "fontSize": 20.5, "align": "left", "baseline": "middle"}, "encoding": {"text": {"field": "t"}, "color": {"field": "s", "type": "nominal", "legend": null}}},
{"data": {"name": "a_panel"}, "mark": {"type": "text", "fontWeight": "bold", "fontSize": 26, "align": "center", "baseline": "middle"}, "encoding": {"text": {"field": "t"}, "color": {"field": "s", "type": "nominal", "legend": null}}}
]
},
{
"width": 784, "height": 593,
"encoding": {
"x": {"field": "wn", "type": "quantitative", "scale": {"domain": [800, 4000], "reverse": true, "nice": false, "zero": false},
 "axis": {"values": [4000,3750,3500,3250,3000,2750,2500,2250,2000,1750,1500,1250,1000], "format": "d", "labelExpr": "datum.value % 1000 === 0 ? datum.label : ''", "labelFlush": false, "labelOverlap": false, "labelBound": false, "tickSize": 4, "tickColor": "#555555", "domainColor": "#555555", "domainWidth": 1.5, "labelFontSize": 16, "labelColor": "#231f20", "labelPadding": 3, "title": "Wavenumber (cm⁻¹)", "titleFontSize": 15.5, "titleFontWeight": "bold", "titleColor": "#231f20", "titlePadding": 7}},
"y": {"field": "a", "type": "quantitative", "scale": {"domain": [0, 593], "nice": false, "zero": false},
 "axis": {"ticks": false, "labels": false, "domainColor": "#555555", "domainWidth": 1.5, "title": "Absorbance (a.u.)", "titleFontSize": 15.5, "titleFontWeight": "bold", "titleColor": "#231f20", "titlePadding": 25, "titleY": 319}}
},
"layer": [
{"data": {"name": "b_spec"}, "mark": {"type": "line", "strokeWidth": 1.3}, "encoding": {"color": {"field": "s", "type": "nominal", "scale": {"domain": ["UV/ozone", "As-received", "note", "oxidation"], "range": ["#2f4e9e", "#f01c24", "#231f20", "#be1e2d"]}, "legend": null}, "detail": {"field": "s"}}},
{"data": {"name": "b_arrow"}, "layer": [
 {"mark": {"type": "rule", "strokeWidth": 1.7}, "encoding": {"x2": {"field": "wt"}, "y2": {"field": "at"}, "color": {"field": "s", "type": "nominal", "legend": null}}},
 {"mark": {"type": "point", "shape": "triangle", "filled": true, "size": 55, "opacity": 1}, "encoding": {"angle": {"field": "ang", "type": "quantitative", "scale": null}, "color": {"field": "s", "type": "nominal", "legend": null}}}
]},
{"data": {"name": "b_head"}, "mark": {"type": "text", "fontWeight": "bold", "fontSize": 23, "align": "center", "baseline": "middle"}, "encoding": {"text": {"field": "t"}, "color": {"field": "s", "type": "nominal", "legend": null}}},
{"data": {"name": "b_det"}, "mark": {"type": "text", "fontSize": 18.5, "align": "center", "baseline": "middle"}, "encoding": {"text": {"field": "t"}, "color": {"field": "s", "type": "nominal", "legend": null}}},
{"data": {"name": "b_lab"}, "mark": {"type": "text", "fontSize": 20.5, "align": "left", "baseline": "middle"}, "encoding": {"text": {"field": "t"}, "color": {"field": "s", "type": "nominal", "legend": null}}},
{"data": {"name": "b_panel"}, "mark": {"type": "text", "fontWeight": "bold", "fontSize": 26, "align": "center", "baseline": "middle"}, "encoding": {"text": {"field": "t"}, "color": {"field": "s", "type": "nominal", "legend": null}}}
]
}
]
}
